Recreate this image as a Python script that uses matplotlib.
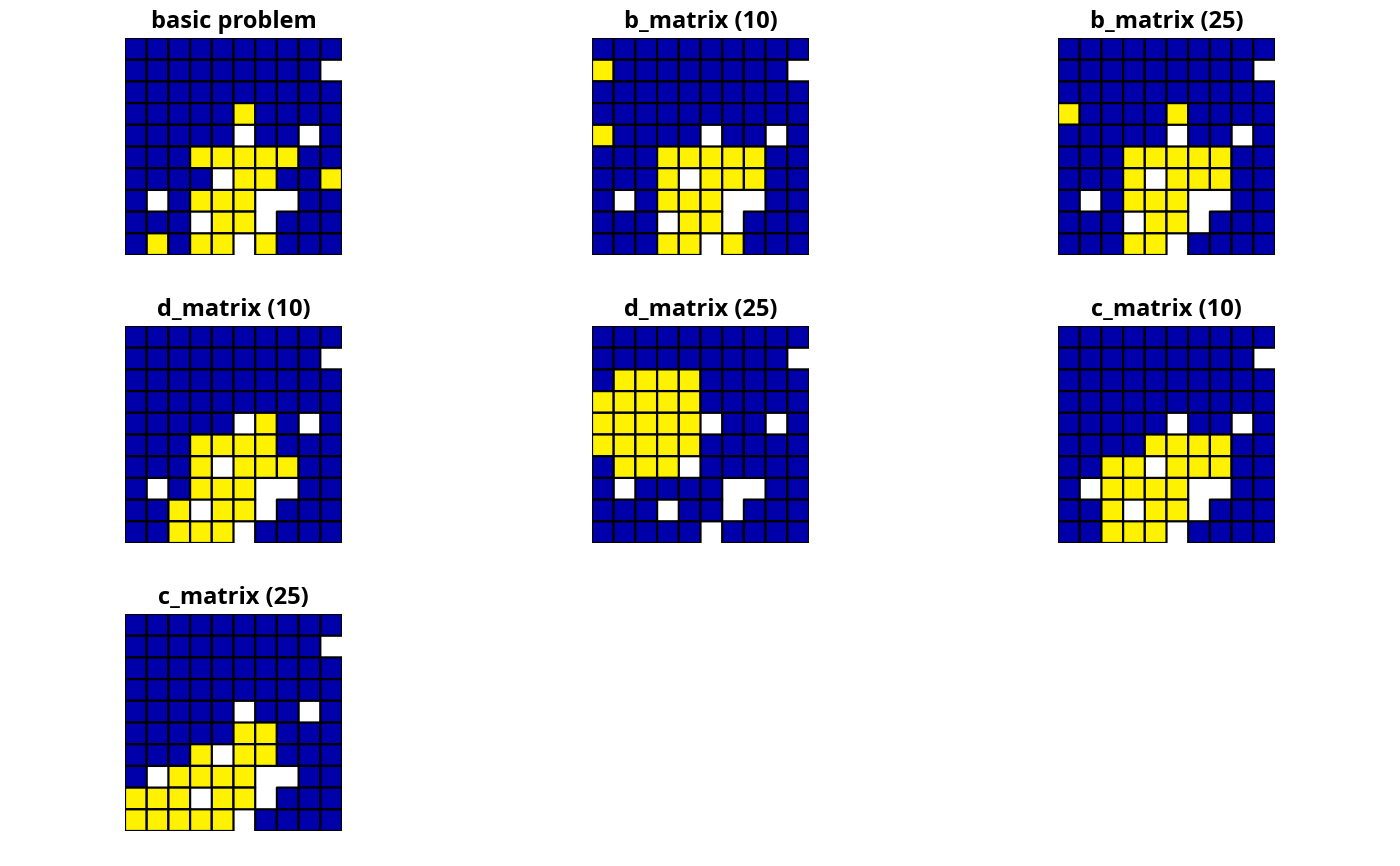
import matplotlib
matplotlib.use("Agg")
import numpy as np
import matplotlib.pyplot as plt
from matplotlib.colors import ListedColormap

# B = 0 (blue), Y = 1 (yellow), . = missing cell; rows listed top to bottom
basic_problem = [
    "BBBBBBBBBB", "BBBBBBBBB.", "BBBBBBBBBB", "BBBBBYBBBB", "BBBBB.BB.B",
    "BBBYYYYYBB", "BBBB.YYBBY", "B.BYYY..BB", "BBB.YY.BBB", "BYBYY.YBBB",
]
b_matrix_10 = [
    "BBBBBBBBBB", "YBBBBBBBB.", "BBBBBBBBBB", "BBBBBBBBBB", "YBBBB.BB.B",
    "BBBYYYYYBB", "BBBY.YYYBB", "B.BYYY..BB", "BBB.YY.BBB", "BBBYY.YBBB",
]
b_matrix_25 = [
    "BBBBBBBBBB", "BBBBBBBBB.", "BBBBBBBBBB", "YBBBBYBBBB", "BBBBB.BB.B",
    "BBBYYYYYBB", "BBBY.YYYBB", "B.BYYY..BB", "BBB.YY.BBB", "BBBYY.BBBB",
]
d_matrix_10 = [
    "BBBBBBBBBB", "BBBBBBBBB.", "BBBBBBBBBB", "BBBBBBBBBB", "BBBBB.YB.B",
    "BBBYYYYBBB", "BBBY.YYYBB", "B.BYYY..BB", "BBY.YY.BBB", "BBYYY.BBBB",
]
d_matrix_25 = [
    "BBBBBBBBBB", "BBBBBBBBB.", "BYYYYBBBBB", "YYYYYBBBBB", "YYYYY.BB.B",
    "YYYYYBBBBB", "BYYY.BBBBB", "B.BBBB..BB", "BBB.BB.BBB", "BBBBB.BBBB",
]
c_matrix_10 = [
    "BBBBBBBBBB", "BBBBBBBBB.", "BBBBBBBBBB", "BBBBBBBBBB", "BBBBB.BB.B",
    "BBBBYYYYBB", "BBYY.YYYBB", "B.YYYY..BB", "BBY.YY.BBB", "BBYYY.BBBB",
]
c_matrix_25 = [
    "BBBBBBBBBB", "BBBBBBBBB.", "BBBBBBBBBB", "BBBBBBBBBB", "BBBBB.BB.B",
    "BBBBBYYBBB", "BBBY.YYBBB", "B.YYYY..BB", "YYY.YY.BBB", "YYYYY.BBBB",
]

titles = ["basic problem", "b_matrix (10)", "b_matrix (25)", "d_matrix (10)",
          "d_matrix (25)", "c_matrix (10)", "c_matrix (25)"]
grids = [basic_problem, b_matrix_10, b_matrix_25, d_matrix_10,
         d_matrix_25, c_matrix_10, c_matrix_25]


def to_array(rows):
    lut = {"B": 0.0, "Y": 1.0, ".": np.nan}
    arr = np.array([[lut[c] for c in r] for r in rows])
    return np.ma.masked_invalid(arr)


plt.rcParams["font.family"] = ["Open Sans", "DejaVu Sans"]
cmap = ListedColormap(["#0000AA", "#FFF200"])

fig = plt.figure(figsize=(14, 8.66), dpi=100)
lefts = [125 / 1400, 592 / 1400, 1058 / 1400]
bottoms = [1 - 255 / 866, 1 - 543 / 866, 1 - 831 / 866]
w, h = 217 / 1400, 217 / 866

for i, (title, rows) in enumerate(zip(titles, grids)):
    ax = fig.add_axes([lefts[i % 3], bottoms[i // 3], w, h])
    data = to_array(rows)
    ax.pcolor(data, cmap=cmap, vmin=0, vmax=1, edgecolors="black", linewidth=1.6)
    ax.set_xlim(0, 10)
    ax.set_ylim(10, 0)
    ax.set_aspect("equal")
    ax.axis("off")
    ax.set_title(title, fontsize=17, fontweight="bold", pad=7)

fig.savefig("out.png", dpi=100)
